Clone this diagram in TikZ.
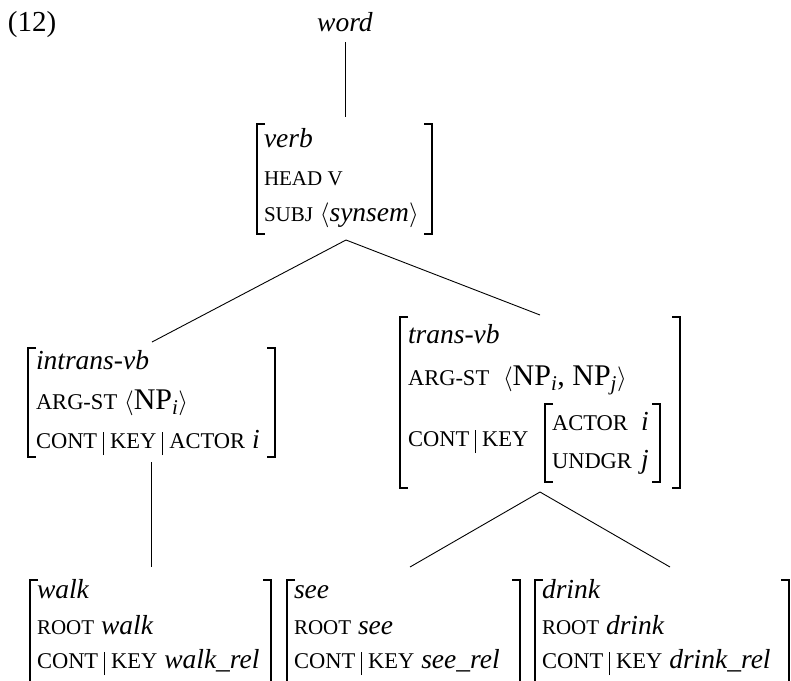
\documentclass[tikz,border=0pt]{standalone}
\usepackage{fontspec}
\setmainfont{Liberation Serif}[ItalicFont={Liberation Serif Italic}]
\newcommand\smc[1]{{\fontsize{22.5}{26}\selectfont #1}}
\newcommand\smcs[1]{{\fontsize{21}{24}\selectfont #1}}
\newcommand\rmb[1]{{\fontsize{30}{34}\selectfont #1}}
\newcommand\pbar{\hspace{6pt}\vrule height 16pt depth 7pt width 0.9pt\hspace{6pt}}
\newcommand\lng{\rmb{\ensuremath{\langle}}}
\newcommand\rng{\rmb{\ensuremath{\rangle}}}
\newcommand\sbi[1]{\textsubscript{\textit{#1}}}
\begin{document}
\begin{tikzpicture}[x=1pt,y=-1pt,
  every node/.style={inner sep=0pt,outer sep=0pt,anchor=base west,font=\fontsize{27.5}{32}\selectfont},
  brk/.style={line width=2.2pt},
  edge/.style={line width=0.9pt}]
\useasboundingbox (0,0) rectangle (791,680);
% brackets: left and right
\newcommand\avm[4]{%
  \draw[brk] (#1+8,#3) -- (#1,#3) -- (#1,#4) -- (#1+8,#4);
  \draw[brk] (#2-8,#3) -- (#2,#3) -- (#2,#4) -- (#2-8,#4);}
\newcommand\avmopen[3]{%
  \draw[brk] (#1+8,#3) -- (#1,#3) -- (#1,690);
  \draw[brk] (#2-8,#3) -- (#2,#3) -- (#2,690);}

\node[font=\fontsize{29}{34}\selectfont] (ex) at (8,31) {(12)};
\node[anchor=base] (word) at (345,31) {\textit{word}};

% verb
\avm{257}{432}{124}{234}
\node (v1) at (264,147) {\textit{verb}};
\node (v2) at (264,185) {\smcs{HEAD V}};
\node (v3) at (264,221) {\smcs{SUBJ} \lng\textit{synsem}\rng};

% intrans
\avm{28}{275}{348}{457}
\node (i1) at (36,369) {\textit{intrans-vb}};
\node (i2) at (36,409) {\smc{ARG-ST} \lng\rmb{NP\sbi{i}}\rng};
\node (i3) at (36,448) {\smc{CONT}\pbar\smc{KEY}\pbar\smc{ACTOR} \textit{i}};

% trans
\avm{400}{680}{317}{488}
\node (t1) at (408,343) {\textit{trans-vb}};
\node (t2) at (408,385) {\smc{ARG-ST}\ \ \lng\rmb{NP\sbi{i}, NP\sbi{j}}\rng};
\node (t3) at (408,446) {\smc{CONT}\pbar\smc{KEY}};
\avm{545}{660}{404}{482}
\node (t4) at (552,430) {\smc{ACTOR}};
\node (t5) at (552,468) {\smc{UNDGR}};
\node (t6) at (641,430) {\textit{i}};
\node (t7) at (641,468) {\textit{j}};

% bottom row
\avmopen{30}{271}{580}
\node (w1) at (37,598) {\textit{walk}};
\node (w2) at (37,634) {\smcs{ROOT} \textit{walk}};
\node (w3) at (37,668) {\smc{CONT}\pbar\smc{KEY} \textit{walk\_rel}};
\avmopen{287}{520}{580}
\node (s1) at (294,598) {\textit{see}};
\node (s2) at (294,634) {\smcs{ROOT} \textit{see}};
\node (s3) at (294,668) {\smc{CONT}\pbar\smc{KEY} \textit{see\_rel}};
\avmopen{535}{789}{580}
\node (d1) at (542,598) {\textit{drink}};
\node (d2) at (542,634) {\smcs{ROOT} \textit{drink}};
\node (d3) at (542,668) {\smc{CONT}\pbar\smc{KEY} \textit{drink\_rel}};

% connector end points
\coordinate (wordB) at (345,42);
\coordinate (verbT) at (345,117);
\coordinate (verbB) at (346,240);
\coordinate (intrT) at (152,342);
\coordinate (transT) at (540,315);
\coordinate (intrB) at (151,462);
\coordinate (walkT) at (151,567);
\coordinate (transB) at (540,492);
\coordinate (seeT) at (410,567);
\coordinate (drinkT) at (670,567);

\draw[edge] (wordB) -- (verbT);
\draw[edge] (verbB) -- (intrT);
\draw[edge] (verbB) -- (transT);
\draw[edge] (intrB) -- (walkT);
\draw[edge] (transB) -- (seeT);
\draw[edge] (transB) -- (drinkT);
\end{tikzpicture}
\end{document}
